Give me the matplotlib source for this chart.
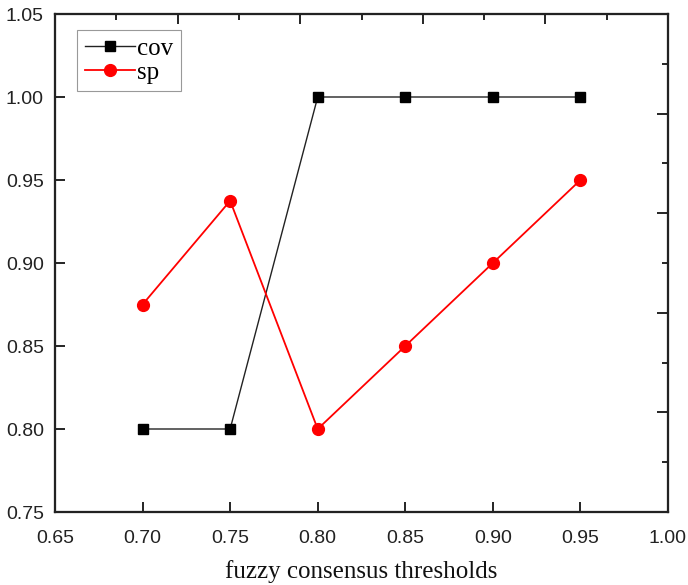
import matplotlib
matplotlib.use("Agg")
import matplotlib.pyplot as plt
from matplotlib.ticker import MultipleLocator

thresholds = [0.70, 0.75, 0.80, 0.85, 0.90, 0.95]
cov = [0.80, 0.80, 1.00, 1.00, 1.00, 1.00]
sp = [0.875, 0.9375, 0.80, 0.85, 0.90, 0.95]
xticks = [0.65, 0.70, 0.75, 0.80, 0.85, 0.90, 0.95, 1.00]
yticks = [0.75, 0.80, 0.85, 0.90, 0.95, 1.00, 1.05]

fig = plt.figure(figsize=(6.88, 5.85), dpi=100)
ax = fig.add_axes([55/688, 1-512/585, (668-55)/688, (512-14)/585])

ax.plot(thresholds, cov, color='#222222', lw=1.0, marker='s', ms=7,
        mfc='black', mec='black', label='cov', zorder=3)
ax.plot(thresholds, sp, color='#ff0000', lw=1.3, marker='o', ms=8.5,
        mfc='#ff0000', mec='#ff0000', label='sp', zorder=3)

ax.set_xlim(0.65, 1.00)
ax.set_ylim(0.75, 1.05)
ax.set_xticks(xticks)
ax.set_yticks(yticks)
ax.set_xticklabels([f"{v:.2f}" for v in xticks])
ax.set_yticklabels([f"{v:.2f}" for v in yticks])
for lab in ax.get_xticklabels() + ax.get_yticklabels():
    lab.set_fontfamily('Liberation Sans')
    lab.set_fontsize(14)
    lab.set_color('#222222')
ax.tick_params(direction='in', length=7, width=1.2)
ax.tick_params(axis='x', pad=13)
ax.tick_params(axis='y', pad=8)
for s in ax.spines.values():
    s.set_linewidth(1.5)
    s.set_color('#222222')

ax.set_xlabel('fuzzy consensus thresholds', family='Liberation Serif',
              fontsize=18, labelpad=9, color='#111111')

# top and right axes with their own tick divisions
axt = ax.twiny()
axt.set_xlim(0, 10)
axt.xaxis.set_major_locator(MultipleLocator(2))
axt.xaxis.set_minor_locator(MultipleLocator(1))
axt.tick_params(axis='x', which='major', direction='in', length=7, width=1.2, labeltop=False)
axt.tick_params(axis='x', which='minor', direction='in', length=4, width=1.2)
axr = ax.twinx()
axr.set_ylim(0, 10)
axr.yaxis.set_major_locator(MultipleLocator(2))
axr.yaxis.set_minor_locator(MultipleLocator(1))
axr.tick_params(axis='y', which='major', direction='in', length=8, width=1.2, labelright=False)
axr.tick_params(axis='y', which='minor', direction='in', length=4, width=1.2)
for a in (axt, axr):
    for s in a.spines.values():
        s.set_linewidth(1.5)
        s.set_color('#222222')

leg = ax.legend(loc='upper left', bbox_to_anchor=(22/613, 1-16/498), frameon=True,
                fancybox=False, edgecolor='#999999', framealpha=1,
                prop={'family': 'Liberation Serif', 'size': 18},
                handlelength=2.0, handletextpad=0.1, borderpad=0.3,
                labelspacing=0.05, borderaxespad=0)
leg.get_frame().set_linewidth(0.8)

fig.savefig('out.png', dpi=100)
